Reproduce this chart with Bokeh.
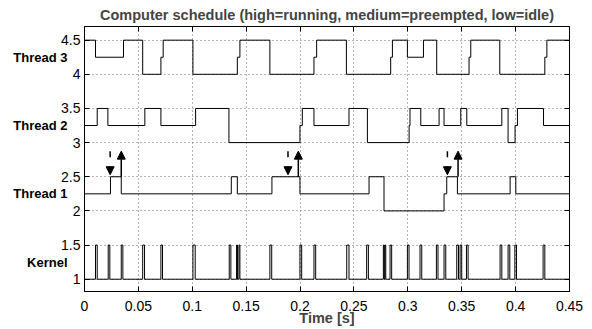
from bokeh.plotting import figure
from bokeh.models import (Range1d, FixedTicker, LinearAxis, Arrow, NormalHead,
                          ColumnDataSource, CustomJSTickFormatter)
from bokeh.embed import file_html
from bokeh.resources import INLINE

# ---------------- data ----------------
x_ticks = [0, 0.05, 0.1, 0.15, 0.2, 0.25, 0.3, 0.35, 0.4, 0.45]
y_ticks = [1, 1.5, 2, 2.5, 3, 3.5, 4, 4.5]

row_names = ["Kernel", "Thread 1", "Thread 2", "Thread 3"]
row_label_y = [1.25, 2.25, 3.25, 4.25]

thread3_t = [0, 0.0102, 0.0362, 0.0540, 0.0709, 0.0730, 0.1006, 0.1418, 0.1442, 0.1720,
             0.2129, 0.2154, 0.2430, 0.2841, 0.2857, 0.2996, 0.3145, 0.3268, 0.3568,
             0.3584, 0.3853, 0.4271, 0.4290, 0.45]
thread3_y = [4.5, 4.25, 4.5, 4.0, 4.25, 4.5, 4.0, 4.25, 4.5, 4.0,
             4.25, 4.5, 4.0, 4.25, 4.5, 4.25, 4.5, 4.0, 4.25,
             4.5, 4.0, 4.25, 4.5, 4.5]

thread2_t = [0, 0.0118, 0.0217, 0.0560, 0.0709, 0.1031, 0.1340, 0.1999, 0.2021, 0.2129,
             0.2454, 0.2625, 0.3012, 0.3020, 0.3120, 0.3290, 0.3336, 0.3491, 0.3547,
             0.3872, 0.3930, 0.3995, 0.4017, 0.4259, 0.45]
thread2_y = [3.25, 3.5, 3.25, 3.5, 3.25, 3.5, 3.0, 3.25, 3.5, 3.25,
             3.5, 3.0, 3.25, 3.5, 3.25, 3.5, 3.25, 3.5, 3.25,
             3.5, 3.0, 3.25, 3.5, 3.25, 3.25]

thread1_t = [0, 0.0241, 0.0341, 0.1362, 0.1418, 0.1739, 0.1999, 0.2640, 0.2779,
             0.3336, 0.3361, 0.3460, 0.3949, 0.4002, 0.45]
thread1_y = [2.25, 2.5, 2.25, 2.5, 2.25, 2.5, 2.25, 2.5, 2.0,
             2.25, 2.5, 2.25, 2.5, 2.25, 2.25]

kernel_on = [0.0102, 0.0220, 0.0341, 0.0540, 0.0709, 0.1006, 0.1343, 0.1411, 0.1433,
             0.1720, 0.1999, 0.2129, 0.2433, 0.2618, 0.2773, 0.2787, 0.2835, 0.2996,
             0.3113, 0.3265, 0.3336, 0.3454, 0.3485, 0.3544, 0.3856, 0.3930, 0.3993, 0.4255]
kernel_off = [0.0118, 0.0235, 0.0356, 0.0557, 0.0724, 0.1027, 0.1358, 0.1420, 0.1442,
              0.1737, 0.2015, 0.2145, 0.2454, 0.2634, 0.2781, 0.2795, 0.2850, 0.3011,
              0.3129, 0.3280, 0.3352, 0.3470, 0.3500, 0.3559, 0.3872, 0.3946, 0.4008, 0.4271]
kernel_low, kernel_high = 1.0, 1.5

release_times = [0.0238, 0.1888, 0.3367]
finish_times = [0.0341, 0.1984, 0.3466]
arrow_low, arrow_high = 2.5, 2.875

# ---------------- figure ----------------
FONT = "Liberation Sans"
p = figure(width=592, height=329, output_backend="svg", toolbar_location=None,
           x_range=Range1d(0, 0.45), y_range=Range1d(0.82, 4.7),
           min_border_left=84, min_border_right=23, min_border_top=25, min_border_bottom=38)
p.background_fill_color = "white"
p.border_fill_color = "white"
p.outline_line_color = "black"
p.outline_line_width = 1

p.title.text = "Computer schedule (high=running, medium=preempted, low=idle)"
p.title.align = "center"
p.title.text_font = FONT
p.title.text_font_size = "14.5px"
p.title.text_font_style = "bold"
p.title.standoff = 8

fmt = CustomJSTickFormatter(code="return String(Math.round(tick*1000)/1000);")
blank = CustomJSTickFormatter(code="return '';")

def style_axis(ax, labels=True):
    ax.axis_line_color = "black"
    ax.major_tick_line_color = "black"
    ax.major_tick_in = 5
    ax.major_tick_out = 0
    ax.minor_tick_line_color = None
    ax.major_label_text_font = FONT
    ax.major_label_text_color = "black"
    ax.major_label_text_font_size = "14px"
    ax.major_label_standoff = 4 if labels else 0

xax = p.xaxis[0]
xax.ticker = FixedTicker(ticks=x_ticks)
xax.formatter = fmt
style_axis(xax)
xax.major_label_standoff = 9
xax.axis_label = "Time [s]"
xax.axis_label_text_font = FONT
xax.axis_label_text_font_size = "14.5px"
xax.axis_label_text_font_style = "bold"
xax.axis_label_standoff = -4

yax = p.yaxis[0]
yax.ticker = FixedTicker(ticks=y_ticks)
yax.formatter = fmt
style_axis(yax)

# row names as an outer left axis
name_ax = LinearAxis(ticker=FixedTicker(ticks=row_label_y),
                     major_label_overrides={v: n for v, n in zip(row_label_y, row_names)})
name_ax.axis_line_color = None
name_ax.major_tick_line_color = None
name_ax.minor_tick_line_color = None
name_ax.major_tick_in = 0
name_ax.major_tick_out = 0
name_ax.major_label_standoff = -9
name_ax.major_label_text_font = FONT
name_ax.major_label_text_font_size = "13px"
name_ax.major_label_text_font_style = "bold"
name_ax.major_label_text_color = "black"
p.add_layout(name_ax, "left")

top_ax = LinearAxis(ticker=FixedTicker(ticks=x_ticks), formatter=blank)
style_axis(top_ax, labels=False)
p.add_layout(top_ax, "above")
right_ax = LinearAxis(ticker=FixedTicker(ticks=y_ticks), formatter=blank)
style_axis(right_ax, labels=False)
p.add_layout(right_ax, "right")

p.xgrid.ticker = FixedTicker(ticks=x_ticks)
p.ygrid.ticker = FixedTicker(ticks=y_ticks)
for g in (p.xgrid[0], p.ygrid[0]):
    g.grid_line_color = "#666666"
    g.grid_line_dash = "1 3"
    g.grid_line_width = 1

# kernel step series built from pulse lists
kx, ky = [0.0], [kernel_low]
for a, b in zip(kernel_on, kernel_off):
    kx += [a, b]
    ky += [kernel_high, kernel_low]
kx.append(0.45)
ky.append(kernel_low)

for xs, ys in ((kx, ky), (thread1_t, thread1_y), (thread2_t, thread2_y), (thread3_t, thread3_y)):
    p.step(xs, ys, mode="after", line_color="black", line_width=1)

# arrows
down_src = ColumnDataSource(dict(x0=release_times, y0=[arrow_high] * len(release_times),
                                 x1=release_times, y1=[arrow_low + 0.03] * len(release_times)))
up_src = ColumnDataSource(dict(x0=finish_times, y0=[arrow_low] * len(finish_times),
                               x1=finish_times, y1=[arrow_high] * len(finish_times)))
p.add_layout(Arrow(end=NormalHead(size=8, fill_color="black", line_color="black", line_width=1),
                   source=down_src, x_start="x0", y_start="y0", x_end="x1", y_end="y1",
                   line_color="black", line_width=1.5, line_dash="6 9"))
p.add_layout(Arrow(end=NormalHead(size=8, fill_color="black", line_color="black", line_width=1),
                   source=up_src, x_start="x0", y_start="y0", x_end="x1", y_end="y1",
                   line_color="black", line_width=1.5))

open("out.html", "w").write(file_html(p, INLINE))
